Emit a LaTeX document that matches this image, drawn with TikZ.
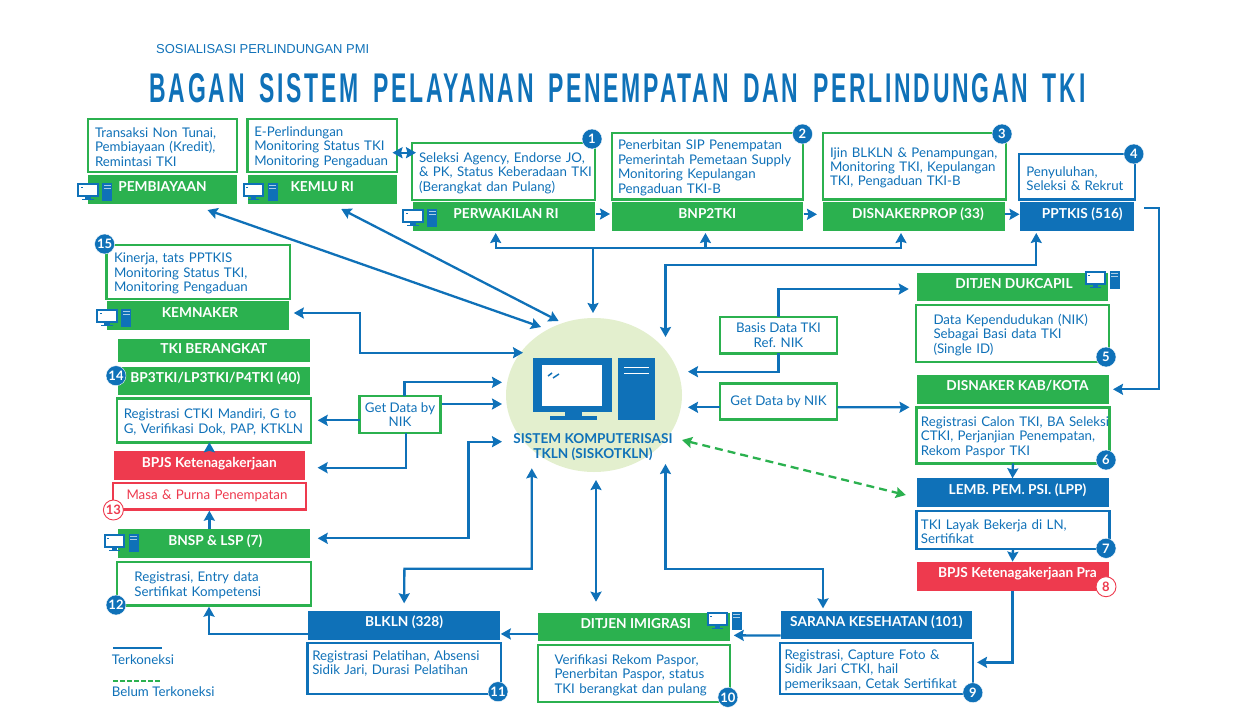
\documentclass[tikz,border=0pt]{standalone}
\usepackage{fontspec}
\usepackage{graphicx}
\setmainfont{Lato}
\newfontfamily\titlefont[LetterSpace=12,WordSpace=1.6]{Liberation Sans}
\newfontfamily\subfont{Liberation Sans}
\usetikzlibrary{arrows.meta,shapes,positioning}
\definecolor{tkblue}{HTML}{0F71B8}
\definecolor{tkgreen}{HTML}{2BB14F}
\definecolor{tkred}{HTML}{EE3A4E}
\definecolor{tkpale}{HTML}{E3EFCE}
\tikzset{pcicon/.pic={
\fill[tkblue] (0,0) rectangle (21.5,14);
\fill[white] (2,2) rectangle (19.5,12);
\fill[tkblue] (3.5,3.5) rectangle (5.5,4.5);
\fill[tkblue] (8,14) rectangle (13.5,16);
\fill[tkblue] (5,16) rectangle (16.5,17.3);
\fill[tkblue] (25,0) rectangle (35,18);
\fill[white!65!tkblue] (26.5,2) rectangle (33.5,3.2);
\fill[white!65!tkblue] (26.5,4.5) rectangle (33.5,5.5);
}}

\begin{document}
\begin{tikzpicture}[x=1pt,y=-1pt]
\useasboundingbox (0,0) rectangle (1249,715);
\begin{scope}
\tikzstyle{hdr}=[rectangle,inner sep=0pt,outer sep=0pt,text=white,text height=10pt,text depth=7pt,font=\fontsize{13.7}{15}\selectfont\bfseries]
\tikzstyle{hdrgreen}=[hdr,fill=tkgreen]
\tikzstyle{hdrblue}=[hdr,fill=tkblue]
\tikzstyle{hdrred}=[hdr,fill=tkred]
\tikzstyle{txt}=[rectangle,fill=white,line width=2.4pt,inner sep=0pt,outer sep=0pt,align=left,text=tkblue,font=\fontsize{13.3}{14.4}\selectfont]
\tikzstyle{body}=[txt,execute at begin node={\rule{0pt}{13pt}}]
\tikzstyle{txtgreen}=[body,draw=tkgreen]
\tikzstyle{txtblue}=[body,draw=tkblue]
\tikzstyle{txtred}=[txt,draw=tkred,text=tkred]
\tikzstyle{badge}=[circle,fill=tkblue,draw=white,line width=0.4pt,text=white,minimum size=20pt,inner sep=0pt,font=\fontsize{13}{13}\selectfont\bfseries]
\tikzstyle{badgered}=[circle,fill=white,draw=tkred,line width=0.9pt,text=tkred,minimum size=20pt,inner sep=0pt,font=\fontsize{13}{13}\selectfont\bfseries]
\tikzstyle{oneway}=[draw=tkblue,line width=2.3pt,-{Stealth[length=10pt,width=11pt,inset=1.5pt]}]
\tikzstyle{twoway}=[draw=tkblue,line width=2.3pt,{Stealth[length=10pt,width=11pt,inset=1.5pt]}-{Stealth[length=10pt,width=11pt,inset=1.5pt]}]
\tikzstyle{notyet}=[draw=tkgreen,line width=2.3pt,dash pattern=on 8pt off 5pt,{Stealth[length=10pt,width=11pt,inset=1.5pt]}-{Stealth[length=10pt,width=11pt,inset=1.5pt]}]

% heading
\node[text=tkblue,anchor=west,inner sep=0pt,font=\fontsize{12.95}{15}\subfont] (sosialisasi) at (156,49) {SOSIALISASI PERLINDUNGAN PMI};
\node[text=tkblue,inner sep=0pt] (judul) at (617.5,88.5) {\resizebox{936pt}{29pt}{\titlefont\bfseries BAGAN SISTEM PELAYANAN PENEMPATAN DAN PERLINDUNGAN TKI}};

% centre
\node[ellipse,fill=tkpale,minimum width=176pt,minimum height=154pt,inner sep=0pt] (sistem) at (594,395) {};
\fill[tkblue] (533,358) rectangle (612,412);
\fill[white] (542,365) rectangle (602,406);
\fill[tkblue] (564.5,412) rectangle (581.5,416);
\fill[tkblue] (550,416) rectangle (597,420);
\draw[tkblue,line width=1.5pt] (548,376) -- (552,373) (553,378) -- (559,374);
\fill[tkblue] (618,358) rectangle (654.5,420);
\fill[white] (624,366.5) rectangle (648.5,368);
\fill[white] (624,372.5) rectangle (648.5,374);
\node[text=tkblue,align=center,inner sep=0pt,font=\fontsize{13.6}{14.4}\selectfont\bfseries] (sistemlabel) at (593,447) {SISTEM KOMPUTERISASI\\TKLN (SISKOTKLN)};

% top row
\node[txtgreen,minimum width=149pt,minimum height=53pt,text width=135pt] (pembiayaan1) at (162.5,145.5) {Transaksi Non Tunai,\\Pembiayaan (Kredit),\\Remintasi TKI};
\node[hdrgreen,minimum width=149pt,minimum height=29pt] (pembiayaan) at (162.5,189.5) {PEMBIAYAAN};
\node[txtgreen,minimum width=149.5pt,minimum height=53pt,text width=136pt] (kemlu1) at (322.25,145.5) {E-Perlindungan\\Monitoring Status TKI\\Monitoring Pengaduan};
\node[hdrgreen,minimum width=149.5pt,minimum height=29pt] (kemlu) at (322.25,189.5) {KEMLU RI};
\node[txtgreen,minimum width=183pt,minimum height=57pt,text width=169pt] (perwakilan1) at (503.5,171.5) {Seleksi Agency, Endorse JO,\\\makebox[169pt][l]{\& PK, Status Keberadaan TKI}\\(Berangkat dan Pulang)};
\node[hdrgreen,minimum width=182pt,minimum height=29pt] (perwakilan) at (504,216.5) {\hspace*{4pt}PERWAKILAN RI};
\node[txtgreen,minimum width=191pt,minimum height=66.5pt,text width=179pt] (bnp1) at (707.5,166.25) {Penerbitan SIP Penempatan\\Pemerintah Pemetaan Supply\\Monitoring Kepulangan\\Pengaduan TKI-B};
\node[hdrgreen,minimum width=190.5pt,minimum height=29pt] (bnp) at (707.25,216.5) {BNP2TKI};
\node[txtgreen,minimum width=182.7pt,minimum height=66.5pt,text width=168.7pt] (prop1) at (914.35,166.25) {Ijin BLKLN \& Penampungan,\\Monitoring TKI, Kepulangan\\TKI, Pengaduan TKI-B};
\node[hdrgreen,minimum width=182pt,minimum height=29pt] (prop) at (914,216.5) {\hspace*{8pt}DISNAKERPROP (33)};
\node[txtblue,minimum width=116pt,minimum height=45.5pt,text width=101pt] (pptkis1) at (1076.8,176.75) {Penyuluhan,\\Seleksi \& Rekrut};
\node[hdrblue,minimum width=114.5pt,minimum height=29pt] (pptkis) at (1076.75,216.5) {\hspace*{11pt}PPTKIS (516)};

% right column
\node[hdrgreen,minimum width=191.5pt,minimum height=28.6pt] (dukcapil) at (1012.5,287) {\hspace*{3pt}DITJEN DUKCAPIL};
\node[txtgreen,minimum width=193pt,minimum height=56.7pt,text width=158pt] (dukcapil1) at (1012.5,333.35) {Data Kependudukan (NIK)\\Sebagai Basi data TKI\\(Single ID)};
\node[hdrgreen,minimum width=192pt,minimum height=29.3pt] (kabkota) at (1012.5,389.3) {\hspace*{10pt}DISNAKER KAB/KOTA};
\node[txtgreen,minimum width=193pt,minimum height=56pt,text width=184pt] (kabkota1) at (1012.95,435.3) {\makebox[184pt][l]{Registrasi Calon TKI, BA Seleksi}\\CTKI, Perjanjian Penempatan,\\Rekom Paspor TKI};
\node[hdrblue,minimum width=192pt,minimum height=29pt] (lpp) at (1012.5,492.8) {\hspace*{10pt}LEMB. PEM. PSI. (LPP)};
\node[txtblue,minimum width=193pt,minimum height=38.3pt,text width=184pt] (lpp1) at (1012.95,529.85) {TKI Layak Bekerja di LN,\\Sertifikat};
\node[hdrred,minimum width=192pt,minimum height=29.3pt] (bpjspra) at (1012.5,576.3) {\hspace*{10pt}BPJS Ketenagakerjaan Pra};

% bottom row
\node[hdrblue,minimum width=191.3pt,minimum height=28.3pt] (sarana) at (876.35,625.2) {SARANA KESEHATAN (101)};
\node[txtblue,minimum width=193pt,minimum height=51.3pt,text width=184pt] (sarana1) at (876.5,668.35) {Registrasi, Capture Foto \&\\Sidik Jari CTKI, hail\\pemeriksaan, Cetak Sertifikat};
\node[hdrgreen,minimum width=192pt,minimum height=28.3pt] (imigrasi) at (633.75,626.85) {\hspace*{4pt}DITJEN IMIGRASI};
\node[txtgreen,minimum width=192.3pt,minimum height=56.7pt,text width=158.7pt] (imigrasi1) at (633.85,673.35) {Verifikasi Rekom Paspor,\\Penerbitan Paspor, status\\TKI berangkat dan pulang};
\node[hdrblue,minimum width=191.7pt,minimum height=28.7pt] (blkln) at (404.15,625.35) {BLKLN (328)};
\node[txtblue,minimum width=193.5pt,minimum height=51.3pt,text width=183.5pt] (blkln1) at (404.05,668.35) {Registrasi Pelatihan, Absensi\\Sidik Jari, Durasi Pelatihan\\~};

% left column
\node[txtgreen,minimum width=183.5pt,minimum height=54pt,text width=168.5pt] (kemnaker1) at (198.25,272) {Kinerja, tats PPTKIS\\Monitoring Status TKI,\\Monitoring Pengaduan};
\node[hdrgreen,minimum width=181.6pt,minimum height=29pt] (kemnaker) at (198,315.5) {\hspace*{4pt}KEMNAKER};
\node[hdrgreen,minimum width=191.7pt,minimum height=22.4pt,text height=9pt,text depth=3pt] (berangkat) at (213.85,350.5) {TKI BERANGKAT};
\node[hdrgreen,minimum width=191.7pt,minimum height=28.6pt] (bptki) at (213.85,381) {\hspace*{3pt}BP3TKI/LP3TKI/P4TKI (40)};
\node[txtgreen,minimum width=193.9pt,minimum height=44pt,text width=180pt] (bptki1) at (213.75,420.3) {Registrasi CTKI Mandiri, G to\\G, Verifikasi Dok, PAP, KTKLN};
\node[hdrred,minimum width=191.3pt,minimum height=29pt] (bpjs) at (209.35,465.5) {BPJS Ketenagakerjaan};
\node[txtred,minimum width=193.3pt,minimum height=26.6pt,text width=165.7pt] (masa) at (209.35,496) {Masa \& Purna Penempatan};
\node[hdrgreen,minimum width=191.7pt,minimum height=29pt] (bnsp) at (213.85,543.8) {\hspace*{3pt}BNSP \& LSP (7)};
\node[txtgreen,minimum width=193.9pt,minimum height=43.6pt,text width=158.7pt] (bnsp1) at (213.75,583.5) {Registrasi, Entry data\\Sertifikat Kompetensi};

% get data boxes
\node[txt,draw=tkgreen,minimum width=117pt,minimum height=36.6pt,align=center] (basis) at (778.5,335) {Basis Data TKI\\Ref. NIK};
\node[txt,draw=tkgreen,minimum width=117.3pt,minimum height=36pt,align=center] (getkanan) at (778.6,401.3) {Get Data by NIK};
\node[txt,draw=tkgreen,minimum width=81pt,minimum height=36.6pt,align=center] (getkiri) at (400,414.5) {Get Data by\\NIK};

% computers
\pic at (77,183) {pcicon};
\pic at (242.5,183) {pcicon};
\pic at (402,209) {pcicon};
\pic at (96,309) {pcicon};
\pic at (1084.5,271) {pcicon};
\pic at (103.5,534) {pcicon};
\pic at (706.5,612) {pcicon};

% links to the centre
\draw[twoway] ([xshift=45pt,yshift=-6pt]pembiayaan.south) -- ([xshift=-53pt,yshift=68pt]sistem.center);
\draw[twoway] ([xshift=19pt,yshift=-5pt]kemlu.south) -- ([xshift=-35.4pt,yshift=74pt]sistem.center);
\coordinate (bus) at (593,248);
\draw[oneway] (bus) -- ([xshift=-1pt,yshift=82pt]sistem.center);
\draw[oneway] (bus) -| ([xshift=-8.3pt,yshift=-2pt]perwakilan.south);
\draw[oneway] (bus) -| ([xshift=-1.8pt,yshift=-2pt]bnp.south);
\draw[oneway] (bus) -| ([xshift=-13pt,yshift=-2pt]prop.south);
\coordinate (pptkisbend) at (850,265);
\draw[twoway] ([xshift=71.5pt,yshift=58pt]sistem.center) |- (pptkisbend) -| ([xshift=-40.5pt,yshift=-2pt]pptkis.south);
\coordinate (kemnakerbend) at (360,352.7);
\draw[twoway] ([xshift=5pt,yshift=2.5pt]kemnaker.east) -| (kemnakerbend) -- ([xshift=-71pt,yshift=42.3pt]sistem.center);
\draw[oneway] (basis.north) |- ([xshift=-8pt,yshift=-2pt]dukcapil.west);
\draw[oneway] (basis.south) |- ([xshift=94pt,yshift=23.3pt]sistem.center);
\draw[oneway] ([yshift=-6pt]getkanan.west) -- ([xshift=94pt,yshift=-12.3pt]sistem.center);
\draw[oneway] ([yshift=-6pt]getkanan.east) -- ([xshift=-7pt,yshift=-3.3pt]kabkota.south west);
\draw[oneway] ([xshift=1pt,yshift=10.5pt]getkiri.east) -- ([xshift=-92pt,yshift=-9pt]sistem.center);
\draw[oneway] ([xshift=4.4pt]getkiri.north) |- ([xshift=-92pt,yshift=12.7pt]sistem.center);
\draw[oneway] (getkiri.west |- bptki1.east) -- ([xshift=7pt]bptki1.east);
\draw[oneway] ([xshift=6pt]getkiri.south) |- ([xshift=12.6pt,yshift=-2.2pt]bpjs.east);
\coordinate (bnspbend) at (468.4,441.7);
\draw[twoway] ([xshift=8pt,yshift=5.5pt]bnsp.east) -| (bnspbend) -- ([xshift=-92pt,yshift=-46.7pt]sistem.center);
\coordinate (blklnbend) at (404.4,568.7);
\draw[twoway] ([xshift=-62.2pt,yshift=-73.3pt]sistem.center) |- (blklnbend) -- ([yshift=7.7pt]blkln.north);
\draw[twoway] ([xshift=2pt,yshift=-85pt]sistem.center) -- ([xshift=-37.75pt,yshift=11pt]imigrasi.north);
\coordinate (saranabend) at (823,569);
\draw[twoway] ([xshift=71.5pt,yshift=-69pt]sistem.center) |- (saranabend) -- ([xshift=-53.35pt,yshift=2.7pt]sarana.north);
\draw[notyet] ([xshift=88pt,yshift=-45pt]sistem.center) -- ([xshift=-10.7pt,yshift=-2.2pt]lpp.west);

% links along the chain
\draw[twoway] ([xshift=-4.5pt,yshift=-7.2pt]kemlu1.east) -- ([xshift=4pt,yshift=18.8pt]perwakilan1.west);
\draw[oneway] ([xshift=1pt,yshift=2.5pt]perwakilan.east) -- ([xshift=-2pt,yshift=2.5pt]bnp.west);
\draw[oneway] ([xshift=1pt,yshift=2.2pt]bnp.east) -- ([xshift=-6pt,yshift=2.2pt]prop.west);
\draw[oneway] ([yshift=2.2pt]prop.east) -- ([yshift=2.2pt]pptkis.west);
\coordinate (pptkisout) at (1159,300);
\draw[oneway] ([xshift=10.4pt,yshift=8.2pt]pptkis.east) -| (pptkisout) |- ([xshift=4.5pt]kabkota.east);
\draw[oneway] (kabkota1.south) -- (lpp.north);
\draw[oneway] (lpp1.south) -- (bpjspra.north);
\draw[oneway] (bpjspra.south) |- ([xshift=4pt,yshift=6pt]sarana1.east);
\draw[oneway] ([yshift=-10.3pt]sarana.west) -- ([xshift=4pt,yshift=-8.5pt]imigrasi.east);
\draw[oneway] ([yshift=-7.1pt]imigrasi.west) -- ([xshift=0.8pt,yshift=-8.6pt]blkln.east);
\draw[oneway] ([yshift=-8.6pt]blkln.west) -| ([xshift=-4.75pt,yshift=-1.4pt]bnsp1.south);
\draw[oneway] (bnsp.north -| masa.south) -- ([yshift=-1.4pt]masa.south);
\draw[oneway] (bpjs.north) -- (bpjs.north |- bptki1.south);

% numbers
\node[badge] (b1) at (592,139) {1};
\node[badge] (b2) at (802.5,134) {2};
\node[badge] (b3) at (1002,134) {3};
\node[badge] (b4) at (1133.8,154) {4};
\node[badge] (b5) at (1106,357) {5};
\node[badge] (b6) at (1106,460) {6};
\node[badge] (b7) at (1106,548.3) {7};
\node[badgered] (b8) at (1106,586.7) {8};
\node[badge] (b9) at (972.8,692.7) {9};
\node[badge] (b10) at (727.9,697.3) {10};
\node[badge] (b11) at (498,691.7) {11};
\node[badge] (b12) at (116,605) {12};
\node[badgered] (b13) at (113.4,510) {13};
\node[badge] (b14) at (116,375.7) {14};
\node[badge] (b15) at (104.6,244) {15};

% legend
\coordinate (terkoneksia) at (113.4,648.3);
\coordinate (terkoneksib) at (162,648.3);
\draw[tkblue,line width=2.3pt] (terkoneksia) -- (terkoneksib);
\node[anchor=west,inner sep=0pt,text=tkblue,font=\fontsize{13.3}{15}\selectfont] (terkoneksi) at (111.7,660) {Terkoneksi};
\coordinate (belumA) at (113.4,681);
\coordinate (belumB) at (160,681);
\draw[tkgreen,line width=2.3pt,dash pattern=on 5pt off 2pt] (belumA) -- (belumB);
\node[anchor=west,inner sep=0pt,text=tkblue,font=\fontsize{13.3}{15}\selectfont] (belum) at (111.7,691.7) {Belum Terkoneksi};
\end{scope}
\end{tikzpicture}
\end{document}
